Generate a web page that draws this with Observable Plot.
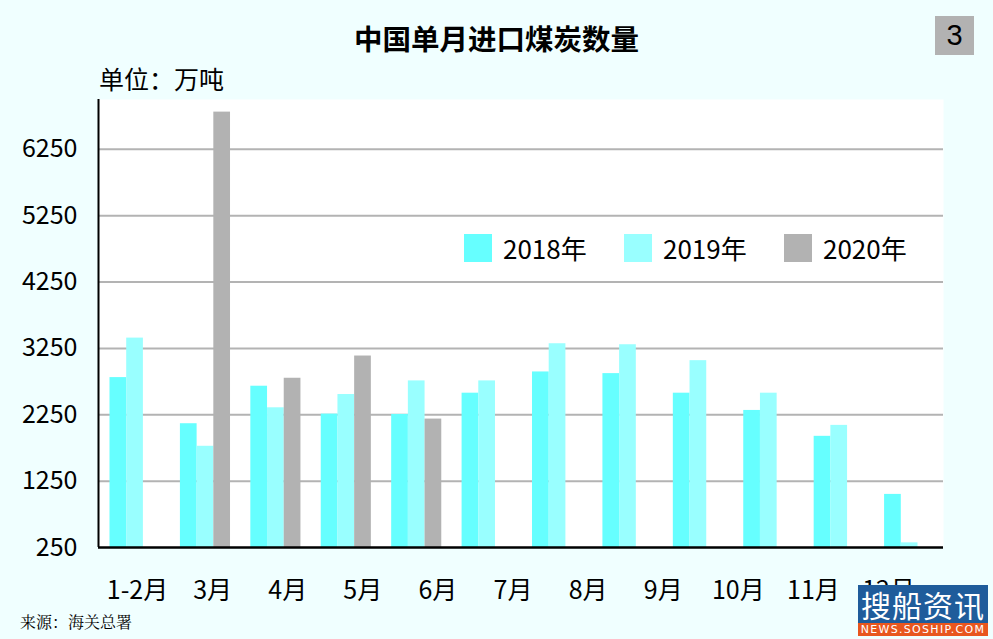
<!DOCTYPE html>
<html>
<head>
<meta charset="utf-8">
<script src="https://cdn.jsdelivr.net/npm/d3@7"></script>
<script src="https://cdn.jsdelivr.net/npm/@observablehq/plot@0.6"></script>
<style>
  html, body { margin: 0; padding: 0; background: #f0ffff; }
  body { font-family: "Noto Sans CJK SC", "Noto Sans", sans-serif; color: #000; }
  #page { position: relative; width: 993px; height: 639px; overflow: hidden; background: #f0ffff; }
  #page > * { position: absolute; }
  .title { left: 0; width: 993px; top: 18px; text-align: center; font-size: 28.5px; font-weight: bold; line-height: 40px; }
  .unit { left: 99px; top: 62px; font-size: 25px; line-height: 32px; }
  .badge { left: 935px; top: 16px; width: 39px; height: 39px; background: #b2b2b2; font-family: "Liberation Sans", Arial, sans-serif; font-size: 29px; line-height: 39px; text-align: center; }
  .legend { left: 464px; top: 231px; display: flex; align-items: center; font-size: 26px; line-height: 34px; }
  .legend .item { display: flex; align-items: center; width: 160px; }
  .legend .sw { width: 28px; height: 28px; margin-right: 11px; flex: none; }
  .source { left: 20px; top: 610px; font-size: 16px; line-height: 24px; font-family: "Noto Serif CJK SC", "Noto Sans CJK SC", serif; }
  .logo { left: 858px; top: 585px; width: 130px; }
  .logo .top { height: 38px; background: #1f5c9b; color: #fff; font-size: 30px; line-height: 38px; text-align: center; letter-spacing: 1px; }
  .logo .bot { height: 13px; background: #e8561e; color: #fff; font-size: 11px; line-height: 13px; text-align: center; letter-spacing: 1.3px; font-family: "DejaVu Sans", sans-serif; }
</style>
</head>
<body>
<div id="page"></div>
<script>
// Monthly slots of the bar data (January through December)
const slots = ["1月", "2月", "3月", "4月", "5月", "6月", "7月", "8月", "9月", "10月", "11月", "12月"];
// Labels printed along the horizontal axis
const xLabels = ["1-2月", "3月", "4月", "5月", "6月", "7月", "8月", "9月", "10月", "11月", "12月"];
// Series names and colours
const years = ["2018年", "2019年", "2020年"];
const colors = ["#66ffff", "#99ffff", "#b2b2b2"];
// Coal imports, 10k tonnes
const v2018 = [2810, 2115, 2680, 2260, 2255, 2575, 2895, 2870, 2575, 2315, 1925, 1050];
const v2019 = [3405, 1775, 2355, 2555, 2760, 2760, 3320, 3305, 3065, 2575, 2090, 320];
const v2020 = [null, 6810, 2800, 3135, 2185, null, null, null, null, null, null, null];
// Vertical axis ticks
const yTicks = [250, 1250, 2250, 3250, 4250, 5250, 6250];
const yMax = 7000;

const series = [v2018, v2019, v2020];
const rows = slots.flatMap((slot, i) =>
  years.map((year, k) => ({slot, year, value: series[k][i]}))
).filter(d => d.value != null);

const W = 993, H = 639;
const mLeft = 98, mRight = 50, mTop = 99, mBottom = 92;
const step = (W - mLeft - mRight) / slots.length;
const groupInset = 11.5;
const barW = 16.7;
const yBase = yTicks[0];
const font = "'Noto Sans CJK SC', sans-serif";

const page = document.getElementById("page");

const chart = Plot.plot({
  width: W,
  height: H,
  marginLeft: mLeft,
  marginRight: mRight,
  marginTop: mTop,
  marginBottom: mBottom,
  style: {background: "transparent", fontFamily: font, fontSize: "25px", color: "#000", overflow: "visible"},
  x: {type: "band", domain: slots, padding: 0, round: false, axis: null},
  y: {domain: [yBase, yMax], ticks: yTicks, tickSize: 0, tickPadding: 21, tickFormat: d => String(d), label: null},
  marks: [
    Plot.frame({fill: "white", stroke: "none"}),
    Plot.ruleY(yTicks.slice(1), {stroke: "#b3b3b3", strokeWidth: 2}),
    ...years.map((year, k) => Plot.barY(rows.filter(d => d.year === year), {
      x: "slot",
      y1: yBase,
      y2: "value",
      fill: colors[k],
      insetLeft: groupInset + k * barW,
      insetRight: step - groupInset - (k + 1) * barW
    })),
    Plot.ruleY([yBase], {stroke: "#000", strokeWidth: 2.5}),
    Plot.ruleX([slots[0]], {x: d => d, dx: -step / 2, stroke: "#000", strokeWidth: 2})
  ]
});
chart.style.left = "0px";
chart.style.top = "0px";
page.appendChild(chart);

// Month labels along the bottom axis
const labelStep = 75.1;
const labelLeft = 137 - labelStep / 2;
const axisPlot = Plot.plot({
  width: W,
  height: 70,
  marginTop: 1,
  marginBottom: 69,
  marginLeft: labelLeft,
  marginRight: W - labelLeft - labelStep * xLabels.length,
  style: {background: "transparent", fontFamily: font, fontSize: "25px", color: "#000", overflow: "visible"},
  x: {type: "band", domain: xLabels, padding: 0, round: false, tickSize: 0, tickPadding: 34, label: null},
  marks: [Plot.ruleX(xLabels, {x: d => d, stroke: "none"})]
});
axisPlot.style.left = "0px";
axisPlot.style.top = (H - mBottom - 1) + "px";
page.appendChild(axisPlot);

// Title, unit, badge
const title = document.createElement("div");
title.className = "title";
title.textContent = "中国单月进口煤炭数量";
page.appendChild(title);

const unit = document.createElement("div");
unit.className = "unit";
unit.textContent = "单位：万吨";
page.appendChild(unit);

const badge = document.createElement("div");
badge.className = "badge";
badge.textContent = "3";
page.appendChild(badge);

// Legend
const legend = document.createElement("div");
legend.className = "legend";
years.forEach((year, k) => {
  const item = document.createElement("div");
  item.className = "item";
  const sw = document.createElement("div");
  sw.className = "sw";
  sw.style.background = colors[k];
  const tx = document.createElement("span");
  tx.textContent = year;
  item.appendChild(sw);
  item.appendChild(tx);
  legend.appendChild(item);
});
page.appendChild(legend);

// Source note
const source = document.createElement("div");
source.className = "source";
source.textContent = "来源：海关总署";
page.appendChild(source);

// Publisher mark
const logo = document.createElement("div");
logo.className = "logo";
logo.innerHTML = '<div class="top">搜船资讯</div><div class="bot">NEWS.SOSHIP.COM</div>';
page.appendChild(logo);
</script>
</body>
</html>
